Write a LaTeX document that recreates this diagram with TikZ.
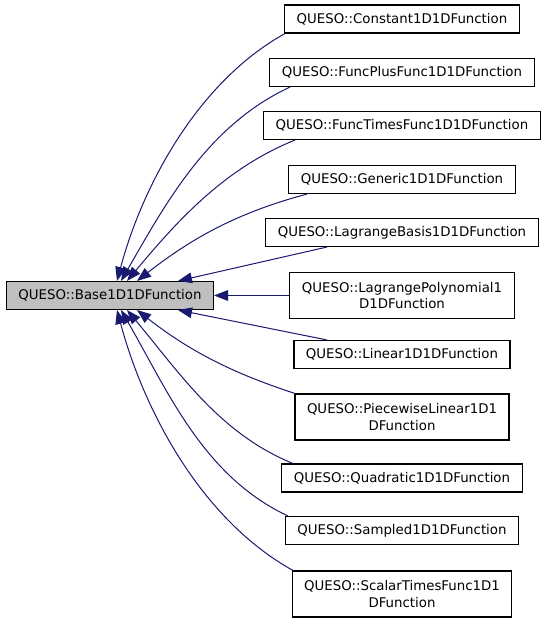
\documentclass[tikz,border=0pt]{standalone}
\usepackage{fontspec}
\setmainfont{DejaVu Sans}
\usetikzlibrary{arrows.meta}
\definecolor{edge_blue}{RGB}{25, 25, 112}
\definecolor{base_grey}{RGB}{191, 191, 191}
\tikzstyle{cls}=[rectangle,draw=black,fill=white,line width=0.8pt,
  inner xsep=9pt,inner ysep=2pt,minimum height=21pt,align=center,
  font=\fontsize{10pt}{12.5pt}\selectfont]
\tikzstyle{cls2}=[cls,minimum height=34.5pt]
\tikzstyle{basecls}=[cls,fill=base_grey]
\tikzstyle{inh}=[draw=edge_blue,line width=0.75pt,
  -{Triangle[length=10.5pt,width=8pt]},edge_blue]

\begin{document}
\begin{tikzpicture}[x=0.75pt, y=0.75pt]
    \useasboundingbox (0, 0) rectangle (547, 621);
    \node [style=basecls] (0) at (110, 325.5) {QUESO::Base1D1DFunction};
    \node [style=cls] (1) at (402, 602) {QUESO::Constant1D1DFunction};
    \node [style=cls] (2) at (402, 548.5) {QUESO::FuncPlusFunc1D1DFunction};
    \node [style=cls] (3) at (402, 495.5) {QUESO::FuncTimesFunc1D1DFunction};
    \node [style=cls] (4) at (402, 441.5) {QUESO::Generic1D1DFunction};
    \node [style=cls] (5) at (402, 388.5) {QUESO::LagrangeBasis1D1DFunction};
    \node [style=cls2] (6) at (402, 325.5) {QUESO::LagrangePolynomial1\\D1DFunction};
    \node [style=cls] (7) at (402, 266.5) {QUESO::Linear1D1DFunction};
    \node [style=cls2] (8) at (402, 204) {QUESO::PiecewiseLinear1D1\\DFunction};
    \node [style=cls] (9) at (402, 143) {QUESO::Quadratic1D1DFunction};
    \node [style=cls] (10) at (402, 90.5) {QUESO::Sampled1D1DFunction};
    \node [style=cls2] (11) at (402, 27) {QUESO::ScalarTimesFunc1D1\\DFunction};
    \draw [style=inh, out=209, in=75, looseness=0.85] ([xshift=-87.75pt]1.south) to ([xshift=5.25pt]0.north);
    \draw [style=inh, out=205, in=60, looseness=0.9] ([xshift=-84pt]2.south) to ([xshift=8.25pt]0.north);
    \draw [style=inh, out=202, in=50, looseness=0.9] ([xshift=-80.25pt]3.south) to ([xshift=12.75pt]0.north);
    \draw [style=inh, out=195, in=38, looseness=0.95] ([xshift=-71.25pt]4.south) to ([xshift=20.25pt]0.north);
    \draw [style=inh] ([xshift=-56.25pt]5.south) to ([xshift=51pt]0.north);
    \draw [style=inh] (6) to (0);
    \draw [style=inh] ([xshift=-56.25pt]7.north) to ([xshift=51pt]0.south);
    \draw [style=inh, out=162, in=-38, looseness=0.95] ([xshift=-80.25pt]8.north) to ([xshift=20.25pt]0.south);
    \draw [style=inh, out=158, in=-50, looseness=0.9] ([xshift=-81.75pt]9.north) to ([xshift=12.75pt]0.south);
    \draw [style=inh, out=155, in=-60, looseness=0.9] ([xshift=-85.5pt]10.north) to ([xshift=8.25pt]0.south);
    \draw [style=inh, out=151, in=-75, looseness=0.85] ([xshift=-81.75pt]11.north) to ([xshift=5.25pt]0.south);
\end{tikzpicture}
\end{document}
